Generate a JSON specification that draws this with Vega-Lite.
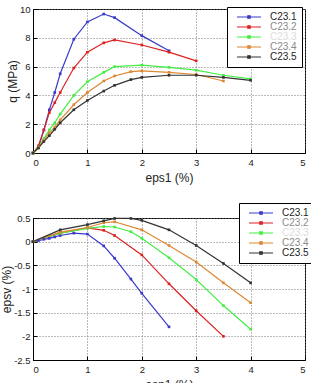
{
  "$schema": "https://vega.github.io/schema/vega-lite/v6.json",
  "padding": {"left": 0, "top": 3, "right": 0, "bottom": 0},
  "spacing": 18,
  "datasets": {
    "q": [
      {"eps1": 0, "q": 0, "test": "C23.1"}, {"eps1": 0.1, "q": 0.4, "test": "C23.1"}, {"eps1": 0.2, "q": 1.6, "test": "C23.1"}, {"eps1": 0.3, "q": 3.0, "test": "C23.1"}, {"eps1": 0.4, "q": 4.2, "test": "C23.1"}, {"eps1": 0.5, "q": 5.5, "test": "C23.1"}, {"eps1": 0.75, "q": 7.9, "test": "C23.1"}, {"eps1": 1, "q": 9.1, "test": "C23.1"}, {"eps1": 1.3, "q": 9.65, "test": "C23.1"}, {"eps1": 1.5, "q": 9.4, "test": "C23.1"}, {"eps1": 2, "q": 8.15, "test": "C23.1"}, {"eps1": 2.5, "q": 7.1, "test": "C23.1"},
      {"eps1": 0, "q": 0, "test": "C23.2"}, {"eps1": 0.1, "q": 0.5, "test": "C23.2"}, {"eps1": 0.2, "q": 1.6, "test": "C23.2"}, {"eps1": 0.3, "q": 2.8, "test": "C23.2"}, {"eps1": 0.4, "q": 3.5, "test": "C23.2"}, {"eps1": 0.5, "q": 4.2, "test": "C23.2"}, {"eps1": 0.75, "q": 5.9, "test": "C23.2"}, {"eps1": 1, "q": 7.0, "test": "C23.2"}, {"eps1": 1.3, "q": 7.65, "test": "C23.2"}, {"eps1": 1.5, "q": 7.85, "test": "C23.2"}, {"eps1": 2, "q": 7.5, "test": "C23.2"}, {"eps1": 2.5, "q": 7.0, "test": "C23.2"}, {"eps1": 3, "q": 6.4, "test": "C23.2"},
      {"eps1": 0, "q": 0, "test": "C23.3"}, {"eps1": 0.1, "q": 0.4, "test": "C23.3"}, {"eps1": 0.2, "q": 1.0, "test": "C23.3"}, {"eps1": 0.3, "q": 1.6, "test": "C23.3"}, {"eps1": 0.4, "q": 2.1, "test": "C23.3"}, {"eps1": 0.5, "q": 2.7, "test": "C23.3"}, {"eps1": 0.75, "q": 4.0, "test": "C23.3"}, {"eps1": 1, "q": 4.95, "test": "C23.3"}, {"eps1": 1.3, "q": 5.6, "test": "C23.3"}, {"eps1": 1.5, "q": 6.0, "test": "C23.3"}, {"eps1": 2, "q": 6.1, "test": "C23.3"}, {"eps1": 2.5, "q": 5.95, "test": "C23.3"}, {"eps1": 3, "q": 5.75, "test": "C23.3"}, {"eps1": 3.5, "q": 5.4, "test": "C23.3"}, {"eps1": 4, "q": 5.15, "test": "C23.3"},
      {"eps1": 0, "q": 0, "test": "C23.4"}, {"eps1": 0.1, "q": 0.35, "test": "C23.4"}, {"eps1": 0.2, "q": 0.9, "test": "C23.4"}, {"eps1": 0.3, "q": 1.4, "test": "C23.4"}, {"eps1": 0.4, "q": 1.8, "test": "C23.4"}, {"eps1": 0.5, "q": 2.3, "test": "C23.4"}, {"eps1": 0.75, "q": 3.35, "test": "C23.4"}, {"eps1": 1, "q": 4.2, "test": "C23.4"}, {"eps1": 1.3, "q": 5.0, "test": "C23.4"}, {"eps1": 1.5, "q": 5.35, "test": "C23.4"}, {"eps1": 1.8, "q": 5.65, "test": "C23.4"}, {"eps1": 2, "q": 5.7, "test": "C23.4"}, {"eps1": 2.5, "q": 5.6, "test": "C23.4"}, {"eps1": 3, "q": 5.45, "test": "C23.4"}, {"eps1": 3.5, "q": 5.0, "test": "C23.4"},
      {"eps1": 0, "q": 0, "test": "C23.5"}, {"eps1": 0.1, "q": 0.35, "test": "C23.5"}, {"eps1": 0.2, "q": 0.8, "test": "C23.5"}, {"eps1": 0.3, "q": 1.2, "test": "C23.5"}, {"eps1": 0.4, "q": 1.65, "test": "C23.5"}, {"eps1": 0.5, "q": 2.1, "test": "C23.5"}, {"eps1": 0.75, "q": 3.0, "test": "C23.5"}, {"eps1": 1, "q": 3.65, "test": "C23.5"}, {"eps1": 1.3, "q": 4.3, "test": "C23.5"}, {"eps1": 1.5, "q": 4.7, "test": "C23.5"}, {"eps1": 1.8, "q": 5.1, "test": "C23.5"}, {"eps1": 2, "q": 5.25, "test": "C23.5"}, {"eps1": 2.5, "q": 5.4, "test": "C23.5"}, {"eps1": 3, "q": 5.4, "test": "C23.5"}, {"eps1": 3.5, "q": 5.25, "test": "C23.5"}, {"eps1": 4, "q": 5.05, "test": "C23.5"}
    ],
    "epsv": [
      {"eps1": 0, "epsv": 0, "test": "C23.1"}, {"eps1": 0.1, "epsv": 0.02, "test": "C23.1"}, {"eps1": 0.2, "epsv": 0.05, "test": "C23.1"}, {"eps1": 0.3, "epsv": 0.07, "test": "C23.1"}, {"eps1": 0.4, "epsv": 0.1, "test": "C23.1"}, {"eps1": 0.5, "epsv": 0.13, "test": "C23.1"}, {"eps1": 0.75, "epsv": 0.18, "test": "C23.1"}, {"eps1": 1, "epsv": 0.16, "test": "C23.1"}, {"eps1": 1.3, "epsv": -0.09, "test": "C23.1"}, {"eps1": 1.5, "epsv": -0.35, "test": "C23.1"}, {"eps1": 1.8, "epsv": -0.79, "test": "C23.1"}, {"eps1": 2, "epsv": -1.09, "test": "C23.1"}, {"eps1": 2.5, "epsv": -1.8, "test": "C23.1"},
      {"eps1": 0, "epsv": 0, "test": "C23.2"}, {"eps1": 0.5, "epsv": 0.18, "test": "C23.2"}, {"eps1": 1, "epsv": 0.29, "test": "C23.2"}, {"eps1": 1.3, "epsv": 0.24, "test": "C23.2"}, {"eps1": 1.5, "epsv": 0.13, "test": "C23.2"}, {"eps1": 2, "epsv": -0.28, "test": "C23.2"}, {"eps1": 2.5, "epsv": -0.89, "test": "C23.2"}, {"eps1": 3, "epsv": -1.46, "test": "C23.2"}, {"eps1": 3.5, "epsv": -2.0, "test": "C23.2"},
      {"eps1": 0, "epsv": 0, "test": "C23.3"}, {"eps1": 0.5, "epsv": 0.18, "test": "C23.3"}, {"eps1": 1, "epsv": 0.28, "test": "C23.3"}, {"eps1": 1.3, "epsv": 0.32, "test": "C23.3"}, {"eps1": 1.5, "epsv": 0.31, "test": "C23.3"}, {"eps1": 1.8, "epsv": 0.21, "test": "C23.3"}, {"eps1": 2, "epsv": 0.07, "test": "C23.3"}, {"eps1": 2.5, "epsv": -0.34, "test": "C23.3"}, {"eps1": 3, "epsv": -0.8, "test": "C23.3"}, {"eps1": 3.5, "epsv": -1.35, "test": "C23.3"}, {"eps1": 4, "epsv": -1.85, "test": "C23.3"},
      {"eps1": 0, "epsv": 0, "test": "C23.4"}, {"eps1": 0.5, "epsv": 0.2, "test": "C23.4"}, {"eps1": 1, "epsv": 0.3, "test": "C23.4"}, {"eps1": 1.3, "epsv": 0.4, "test": "C23.4"}, {"eps1": 1.5, "epsv": 0.42, "test": "C23.4"}, {"eps1": 2, "epsv": 0.25, "test": "C23.4"}, {"eps1": 2.5, "epsv": -0.08, "test": "C23.4"}, {"eps1": 3, "epsv": -0.43, "test": "C23.4"}, {"eps1": 3.5, "epsv": -0.87, "test": "C23.4"}, {"eps1": 4, "epsv": -1.29, "test": "C23.4"},
      {"eps1": 0, "epsv": 0, "test": "C23.5"}, {"eps1": 0.5, "epsv": 0.25, "test": "C23.5"}, {"eps1": 1, "epsv": 0.36, "test": "C23.5"}, {"eps1": 1.3, "epsv": 0.44, "test": "C23.5"}, {"eps1": 1.5, "epsv": 0.49, "test": "C23.5"}, {"eps1": 1.8, "epsv": 0.49, "test": "C23.5"}, {"eps1": 2, "epsv": 0.45, "test": "C23.5"}, {"eps1": 2.5, "epsv": 0.25, "test": "C23.5"}, {"eps1": 3, "epsv": -0.08, "test": "C23.5"}, {"eps1": 3.5, "epsv": -0.46, "test": "C23.5"}, {"eps1": 4, "epsv": -0.87, "test": "C23.5"}
    ]
  },
  "vconcat": [
    {
      "width": 272,
      "height": 144,
      "data": {"name": "q"},
      "mark": {"type": "line", "strokeWidth": 1.2, "point": {"shape": "square", "size": 7, "filled": true}},
      "encoding": {
        "x": {"field": "eps1", "type": "quantitative", "title": "eps1 (%)",
              "scale": {"domain": [0, 5]},
              "axis": {"tickCount": 5, "labelExpr": "'' + datum.value"}},
        "y": {"field": "q", "type": "quantitative", "title": "q (MPa)",
              "scale": {"domain": [0, 10]},
              "axis": {"tickCount": 5, "labelExpr": "'' + datum.value"}},
        "color": {"field": "test", "type": "nominal",
                  "scale": {"domain": ["C23.1", "C23.2", "C23.3", "C23.4", "C23.5"], "range": ["#3a3acc", "#dd2222", "#44ee44", "#dd8833", "#333333"]},
                  "legend": {"orient": "none", "legendX": 194, "legendY": -2,
                             "encode": {"labels": {"update": {"fill": {"signal": "datum.value === 'C23.3' ? '#dcdcdc' : (datum.value === 'C23.2' || datum.value === 'C23.4') ? '#8a8a8a' : '#222222'"}}}}}}
      }
    },
    {
      "width": 272,
      "height": 142,
      "data": {"name": "epsv"},
      "mark": {"type": "line", "strokeWidth": 1.2, "point": {"shape": "square", "size": 7, "filled": true}},
      "encoding": {
        "x": {"field": "eps1", "type": "quantitative", "title": "esp1 (%)",
              "scale": {"domain": [0, 5]},
              "axis": {"tickCount": 5, "labelExpr": "'' + datum.value"}},
        "y": {"field": "epsv", "type": "quantitative", "title": "epsv (%)",
              "scale": {"domain": [-2.5, 0.5]},
              "axis": {"tickCount": 6, "labelExpr": "'' + datum.value"}},
        "color": {"field": "test", "type": "nominal",
                  "scale": {"domain": ["C23.1", "C23.2", "C23.3", "C23.4", "C23.5"], "range": ["#3a3acc", "#dd2222", "#44ee44", "#dd8833", "#333333"]},
                  "legend": {"orient": "none", "legendX": 206, "legendY": -15,
                             "encode": {"labels": {"update": {"fill": {"signal": "datum.value === 'C23.3' ? '#dcdcdc' : (datum.value === 'C23.2' || datum.value === 'C23.4') ? '#8a8a8a' : '#222222'"}}}}}}
      }
    }
  ],
  "resolve": {"scale": {"color": "independent"}, "legend": {"color": "independent"}},
  "config": {
    "view": {"stroke": "black", "strokeWidth": 1},
    "axis": {
      "labelFont": "Liberation Sans", "labelFontSize": 9.5, "labelColor": "#222",
      "titleFont": "Liberation Sans", "titleFontSize": 12, "titleFontWeight": "normal", "titleColor": "#222",
      "domainColor": "black", "tickColor": "black",
      "grid": true, "gridColor": "#777777", "gridDash": [1, 2]
    },
    "axisX": {"titlePadding": 6, "tickSize": -4, "labelPadding": 8},
    "axisY": {"titlePadding": 0, "tickSize": -4, "labelPadding": 7},
    "legend": {
      "title": null,
      "strokeColor": "black", "fillColor": "white", "padding": 5,
      "labelFont": "Liberation Sans", "labelFontSize": 10,
      "symbolType": "M-4,0H4M-0.4,-0.4H0.4V0.4H-0.4Z",
      "symbolSize": 36, "symbolStrokeWidth": 1.2, "symbolOffset": 12, "labelOffset": 16,
      "rowPadding": -2
    }
  }
}
